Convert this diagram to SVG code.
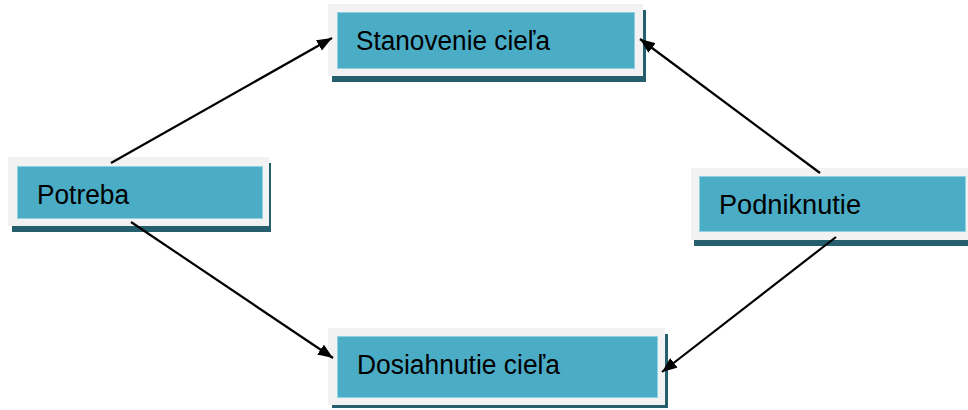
<svg xmlns="http://www.w3.org/2000/svg" width="968" height="410" viewBox="0 0 968 410">
<defs>
<marker id="ah" viewBox="0 0 15 12" refX="15" refY="6" markerWidth="15" markerHeight="12" markerUnits="userSpaceOnUse" orient="auto">
<path d="M0,0 L15,6 L0,12 Z" fill="#000"/>
</marker>
</defs>
<style>
.sh{fill:#255f6d}
.fr{fill:#f2f2f2}
.in{fill:#4bacc6;stroke:#8fd0e2;stroke-width:1}
.tx{font-family:"Liberation Sans",Arial,sans-serif;font-size:27px;fill:#000}
.cn{stroke:#000;stroke-width:2.2;fill:none;marker-end:url(#ah)}
</style>
<rect width="968" height="410" fill="#fff"/>
<g id="stanovenie">
<rect class="sh" x="332" y="10" width="314" height="72"/>
<rect class="fr" x="328" y="4" width="315" height="72"/>
<rect class="in" x="337.5" y="12.5" width="297" height="56"/>
<text class="tx" x="356" y="50" textLength="194" lengthAdjust="spacingAndGlyphs">Stanovenie cieľa</text>
</g>
<g id="potreba">
<rect class="sh" x="12" y="163" width="259" height="69"/>
<rect class="fr" x="8" y="157" width="261" height="69"/>
<rect class="in" x="17.5" y="166.5" width="245" height="52"/>
<text class="tx" x="37" y="204" textLength="92" lengthAdjust="spacingAndGlyphs">Potreba</text>
</g>
<g id="podniknutie">
<rect class="sh" x="694" y="174" width="274" height="72"/>
<rect class="fr" x="691" y="168" width="277" height="72"/>
<rect class="in" x="699.5" y="176.5" width="266" height="55"/>
<text class="tx" x="719" y="214" textLength="142" lengthAdjust="spacingAndGlyphs">Podniknutie</text>
</g>
<g id="dosiahnutie">
<rect class="sh" x="332" y="334" width="336" height="74"/>
<rect class="fr" x="328" y="328" width="337" height="77"/>
<rect class="in" x="337.5" y="336.5" width="320" height="61"/>
<text class="tx" x="357" y="374" textLength="203" lengthAdjust="spacingAndGlyphs">Dosiahnutie cieľa</text>
</g>
<g id="connectors">
<line class="cn" x1="111" y1="163" x2="332" y2="38"/>
<line class="cn" x1="131" y1="222" x2="333" y2="358"/>
<line class="cn" x1="820" y1="173" x2="640" y2="39"/>
<line class="cn" x1="836" y1="237" x2="662" y2="372"/>
</g>
</svg>
